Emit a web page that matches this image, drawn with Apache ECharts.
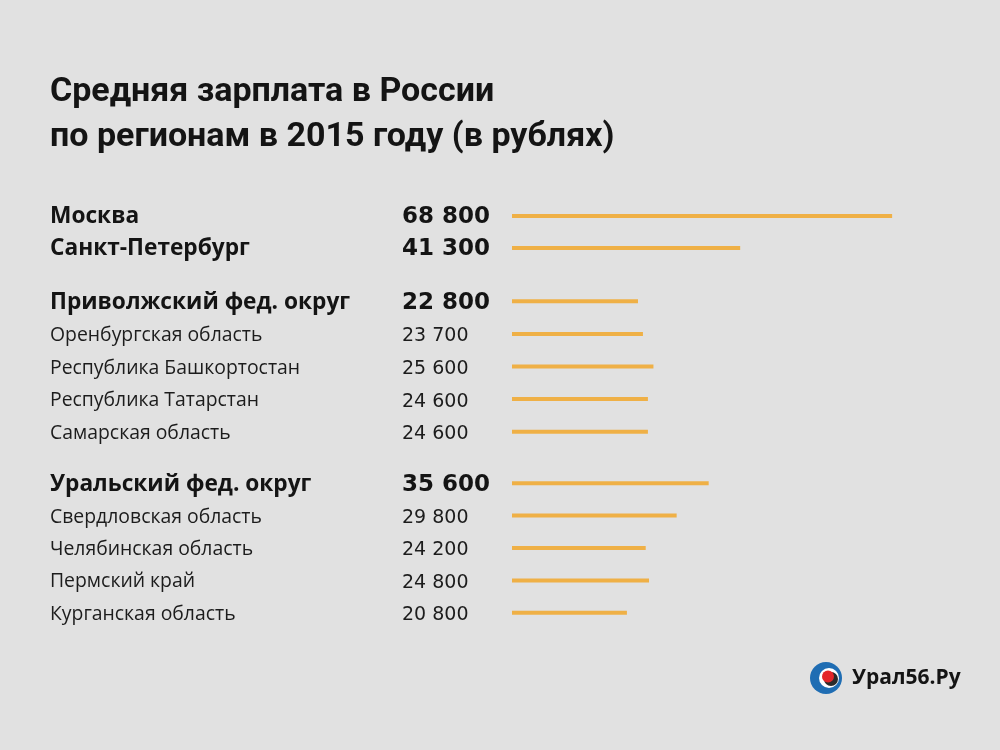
<!DOCTYPE html>
<html><head><meta charset="utf-8">
<script src="https://cdn.jsdelivr.net/npm/echarts@6/dist/echarts.min.js"></script>
<style>html,body{margin:0;padding:0;background:#e1e1e1}#c{width:1000px;height:750px}</style>
</head><body><div id="c"></div>
<script>
// Group 1: cities
const cityNames = ['Москва', 'Санкт-Петербург'];
const cityValues = [68800, 41300];
const cityBold = [true, true];
// Group 2: Volga federal district
const volgaNames = ['Приволжский фед. округ', 'Оренбургская область', 'Республика Башкортостан', 'Республика Татарстан', 'Самарская область'];
const volgaValues = [22800, 23700, 25600, 24600, 24600];
const volgaBold = [true, false, false, false, false];
// Group 3: Ural federal district
const uralNames = ['Уральский фед. округ', 'Свердловская область', 'Челябинская область', 'Пермский край', 'Курганская область'];
const uralValues = [35600, 29800, 24200, 24800, 20800];
const uralBold = [true, false, false, false, false];

const titleText = 'Средняя зарплата в России\nпо регионам в 2015 году (в рублях)';
const brandText = 'Урал56.Ру';

const FONT = 'Open Sans';
const NUMFONT = 'DejaVu Sans';
const fmt = v => String(v).replace(/\B(?=(\d{3})+(?!\d))/g, ' ');

const groups = [
  {names: cityNames, values: cityValues, bold: cityBold, top: 200, height: 64},
  {names: volgaNames, values: volgaValues, bold: volgaBold, top: 285, height: 163},
  {names: uralNames, values: uralValues, bold: uralBold, top: 467, height: 162}
];

const grid = [], xAxis = [], yAxis = [], series = [];
groups.forEach((g, i) => {
  grid.push({left: 512, width: 442, top: g.top, height: g.height});
  xAxis.push({gridIndex: i, type: 'value', min: 0, max: 80000, show: false});
  yAxis.push({
    gridIndex: i, type: 'category', data: g.names, inverse: true,
    axisLine: {show: false}, axisTick: {show: false}, splitLine: {show: false},
    axisLabel: {
      align: 'left', margin: 462,
      formatter: (name, idx) => g.bold[idx]
        ? '{nb|' + name + '}{vb|' + fmt(g.values[idx]) + '}'
        : '{nr|' + name + '}{vr|' + fmt(g.values[idx]) + '}',
      rich: {
        nb: {fontFamily: FONT, fontSize: 22.7, fontWeight: 'bold', color: '#141414', width: 352, padding: [2, 0, 0, 0]},
        vb: {fontFamily: NUMFONT, fontSize: 23, fontWeight: 'bold', color: '#141414', padding: [3, 0, 0, 0]},
        nr: {fontFamily: FONT, fontSize: 19.4, color: '#1c1c1c', width: 352, padding: [3, 0, 0, 0]},
        vr: {fontFamily: NUMFONT, fontSize: 19, color: '#1c1c1c', padding: [5, 0, 0, 0]}
      }
    }
  });
  series.push({
    type: 'bar', xAxisIndex: i, yAxisIndex: i, data: g.values,
    barWidth: 4, itemStyle: {color: '#efb046'}, silent: true
  });
});

const chart = echarts.init(document.getElementById('c'));
chart.setOption({
  backgroundColor: '#e1e1e1',
  animation: false,
  title: {
    text: titleText, left: 45, top: 65,
    textStyle: {fontFamily: 'Roboto', fontSize: 34, fontWeight: 'bold', color: '#141414', lineHeight: 45}
  },
  grid, xAxis, yAxis, series,
  graphic: [
    {type: 'circle', shape: {cx: 826, cy: 678, r: 16}, style: {fill: '#1f6db3'}},
    {type: 'circle', shape: {cx: 829, cy: 678, r: 10}, style: {fill: '#ffffff'}},
    {type: 'circle', shape: {cx: 831, cy: 679, r: 7}, style: {fill: '#2b2b2b'}},
    {type: 'circle', shape: {cx: 828, cy: 676.5, r: 6}, style: {fill: '#e3262a'}},
    {type: 'text', left: 852, top: 668, style: {text: brandText, fontFamily: FONT, fontSize: 21, fontWeight: 'bold', fill: '#141414'}}
  ]
});
</script></body></html>
